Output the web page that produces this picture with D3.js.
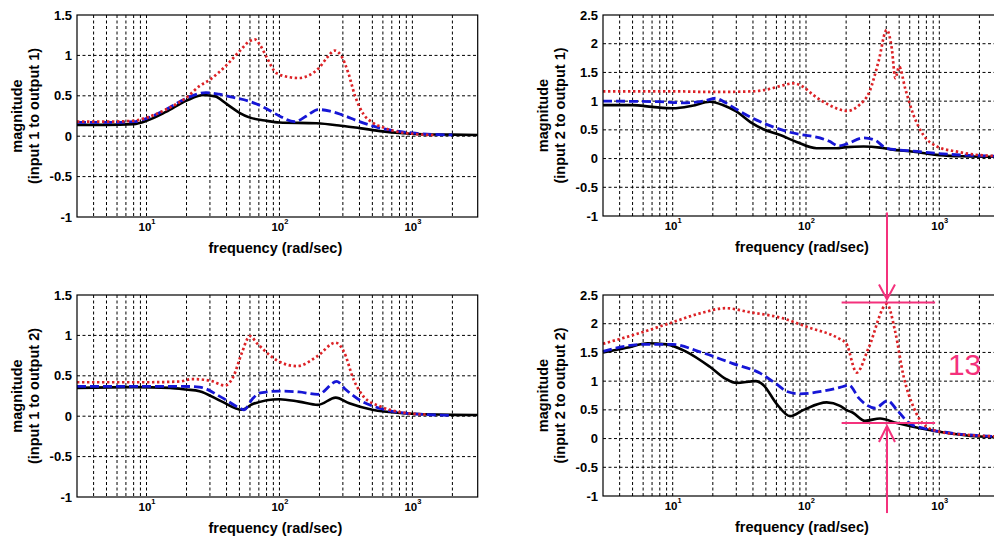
<!DOCTYPE html>
<html>
<head>
<meta charset="utf-8">
<title>Frequency response magnitudes</title>
<style>
  body { margin: 0; background: #fff; }
  svg { display: block; font-family: "Liberation Sans", Arial, sans-serif; }
  .grid line { stroke: #000; stroke-width: 1; stroke-dasharray: 3,2.5; }
  .frame { fill: none; stroke: #000; stroke-width: 1.2; }
  .ytick { font-size: 13px; font-weight: bold; text-anchor: end; dominant-baseline: central; }
  .xtick { font-size: 11.5px; font-weight: bold; }
  .label { font-size: 14.5px; font-weight: bold; text-anchor: middle; }
  .curve { fill: none; stroke-linejoin: round; }
</style>
</head>
<body>
<svg width="994" height="539"></svg>
<script src="https://cdnjs.cloudflare.com/ajax/libs/d3/7.8.5/d3.min.js"></script>
<script>
// axis values
var freqDomain = [3, 3100];
var freqTicks = [10, 100, 1000];
var yTicksA = [-1, -0.5, 0, 0.5, 1, 1.5];
var yTicksB = [-1, -0.5, 0, 0.5, 1, 1.5, 2, 2.5];

// input 1 -> output 1  ([frequency rad/s, magnitude])
var io11Black = [[3,0.14],[5,0.14],[8,0.15],[10,0.19],[14,0.30],[20,0.44],[27,0.51],[33,0.49],[40,0.40],[50,0.29],[60,0.23],[80,0.19],[100,0.17],[190,0.16],[290,0.13],[400,0.10],[600,0.06],[800,0.04],[1200,0.025],[2000,0.02],[3100,0.015]];
var io11Blue = [[3,0.17],[5,0.17],[8,0.18],[10,0.22],[14,0.33],[20,0.47],[28,0.54],[35,0.52],[45,0.48],[60,0.43],[80,0.34],[100,0.25],[130,0.18],[160,0.25],[195,0.33],[240,0.31],[290,0.27],[400,0.18],[575,0.10],[1000,0.04],[2000,0.015]];
var io11Red = [[3,0.18],[5,0.18],[8,0.19],[10,0.23],[14,0.33],[20,0.48],[25,0.62],[30,0.70],[40,0.88],[50,1.05],[60,1.18],[65,1.20],[72,1.12],[80,0.98],[95,0.78],[120,0.73],[140,0.72],[170,0.76],[200,0.85],[230,0.98],[260,1.06],[290,1.0],[330,0.78],[370,0.50],[430,0.27],[500,0.17],[600,0.11],[800,0.05],[1000,0.03],[1500,0.012]];

// input 2 -> output 1
var io21Black = [[3,0.93],[5,0.93],[7,0.90],[10,0.875],[14,0.92],[19,0.99],[24,0.93],[30,0.82],[38,0.64],[48,0.51],[64,0.41],[85,0.29],[120,0.18],[170,0.18],[200,0.20],[270,0.21],[360,0.19],[430,0.16],[640,0.12],[1000,0.06],[1500,0.04],[3100,0.03]];
var io21Blue = [[3,1.0],[8,0.99],[12,0.97],[17,1.0],[21,1.05],[25,0.97],[30,0.86],[40,0.70],[50,0.60],[60,0.53],[75,0.46],[90,0.42],[127,0.36],[150,0.30],[175,0.22],[200,0.25],[270,0.36],[330,0.32],[400,0.18],[500,0.15],[640,0.13],[960,0.09],[1500,0.06],[3100,0.04]];
var io21Red = [[3,1.17],[10,1.17],[20,1.16],[40,1.17],[55,1.22],[68,1.28],[80,1.31],[95,1.25],[113,1.11],[150,0.93],[205,0.83],[250,0.93],[300,1.17],[350,1.69],[403,2.24],[440,1.92],[468,1.40],[500,1.60],[555,1.22],[640,0.76],[760,0.41],[960,0.21],[1360,0.12],[2000,0.06],[3100,0.04]];

// input 1 -> output 2
var io12Black = [[3,0.35],[8,0.36],[15,0.35],[20,0.33],[25,0.31],[37,0.18],[52,0.08],[63,0.15],[100,0.21],[140,0.18],[195,0.14],[265,0.23],[335,0.16],[500,0.08],[810,0.04],[2000,0.017],[3100,0.015]];
var io12Blue = [[3,0.37],[10,0.37],[18,0.37],[25,0.36],[37,0.23],[51,0.095],[54,0.08],[63,0.22],[72,0.29],[100,0.31],[140,0.30],[195,0.27],[270,0.43],[310,0.34],[400,0.20],[575,0.095],[1000,0.03],[2000,0.01]];
var io12Red = [[3,0.42],[10,0.42],[18,0.43],[22,0.46],[30,0.44],[39,0.38],[45,0.49],[52,0.78],[60,0.99],[68,0.90],[96,0.69],[136,0.62],[192,0.74],[264,0.91],[305,0.80],[362,0.45],[431,0.24],[575,0.12],[810,0.05],[1300,0.02]];

// input 2 -> output 2
var io22Black = [[3,1.50],[4.5,1.58],[6.5,1.66],[9,1.64],[12.7,1.51],[19,1.25],[25,1.04],[30,0.97],[42,1.0],[48,0.93],[60,0.61],[76,0.39],[96,0.50],[143,0.63],[180,0.57],[200,0.50],[225,0.45],[277,0.31],[360,0.35],[480,0.27],[716,0.18],[1000,0.12],[2000,0.035],[3100,0.02]];
var io22Blue = [[3,1.52],[6,1.64],[10,1.64],[16,1.51],[28,1.31],[45,1.14],[60,0.95],[72,0.82],[90,0.78],[130,0.82],[180,0.89],[210,0.93],[250,0.70],[330,0.53],[410,0.66],[480,0.50],[600,0.26],[760,0.18],[1100,0.11],[2000,0.05],[3100,0.03]];
var io22Red = [[3,1.65],[5,1.80],[9,1.99],[16,2.18],[25,2.27],[38,2.20],[68,2.09],[100,1.95],[180,1.73],[200,1.66],[240,1.15],[295,1.58],[405,2.34],[465,1.88],[540,1.08],[640,0.55],[760,0.25],[1000,0.12],[1700,0.06],[3100,0.035]];

// annotation on input 2 -> output 2 (frequency, upper and lower magnitude)
var markFreq = 405;
var markLevels = [2.37, 0.27];
var markSpan = [185, 930];
var markText = "13";

var svg = d3.select("svg");

var styles = [
  { color: "#000000", width: 2.6, dash: null },
  { color: "#1616d6", width: 2.8, dash: "9,4" },
  { color: "#dc2226", width: 2.7, dash: "2.4,2.6" }
];

var panels = [
  { left: 77,  top: 15,  width: 400.7, height: 202, ydom: [-1, 1.5], yt: yTicksA, name: "(input 1 to output 1)", data: [io11Black, io11Blue, io11Red], lx: [22, 39] },
  { left: 603, top: 15,  width: 401.8, height: 201, ydom: [-1, 2.5], yt: yTicksB, name: "(input 2 to output 1)", data: [io21Black, io21Blue, io21Red], lx: [548, 565] },
  { left: 77,  top: 295, width: 400.7, height: 202, ydom: [-1, 1.5], yt: yTicksA, name: "(input 1 to output 2)", data: [io12Black, io12Blue, io12Red], lx: [22, 39] },
  { left: 603, top: 295, width: 401.8, height: 201, ydom: [-1, 2.5], yt: yTicksB, name: "(input 2 to output 2)", data: [io22Black, io22Blue, io22Red], lx: [548, 565] }
];

panels.forEach(function (p, pi) {
  var x = d3.scaleLog().domain(freqDomain).range([p.left, p.left + p.width]);
  var y = d3.scaleLinear().domain(p.ydom).range([p.top + p.height, p.top]);
  p.x = x; p.y = y;
  var g = svg.append("g");

  // grid
  var grid = g.append("g").attr("class", "grid");
  var minor = x.ticks().filter(function (t) { return t > freqDomain[0] && t < 3000; });
  grid.selectAll("line.v").data(minor).enter().append("line")
    .attr("x1", x).attr("x2", x)
    .attr("y1", p.top).attr("y2", p.top + p.height);
  grid.selectAll("line.h").data(p.yt.slice(1, -1)).enter().append("line")
    .attr("x1", p.left).attr("x2", p.left + p.width)
    .attr("y1", y).attr("y2", y);

  // curves
  var line = d3.line()
    .x(function (d) { return x(d[0]); })
    .y(function (d) { return y(d[1]); })
    .curve(d3.curveMonotoneX);
  p.data.forEach(function (s, i) {
    var st = styles[i];
    g.append("path").attr("class", "curve")
      .attr("d", line(s))
      .attr("stroke", st.color)
      .attr("stroke-width", st.width)
      .attr("stroke-dasharray", st.dash);
  });

  g.append("rect").attr("class", "frame")
    .attr("x", p.left).attr("y", p.top)
    .attr("width", p.width).attr("height", p.height);

  // y ticks
  g.selectAll("text.ytick").data(p.yt).enter().append("text")
    .attr("class", "ytick")
    .attr("x", p.left - 5)
    .attr("y", y)
    .text(function (d) { return d; });

  // x ticks as 10^n
  var xt = g.selectAll("text.xtick").data(freqTicks).enter().append("text")
    .attr("class", "xtick")
    .attr("x", function (d) { return x(d) - 8; })
    .attr("y", p.top + p.height + 14);
  xt.append("tspan").text("10");
  xt.append("tspan").attr("dy", -7).attr("font-size", "7.5px")
    .text(function (d) { return Math.round(Math.log10(d)); });

  g.append("text").attr("class", "label")
    .attr("x", p.left + p.width / 2 - 2)
    .attr("y", p.top + p.height + 36)
    .text("frequency (rad/sec)");

  var cy = p.top + p.height / 2;
  g.append("text").attr("class", "label")
    .attr("transform", "translate(" + p.lx[0] + "," + cy + ") rotate(-90)")
    .text("magnitude");
  g.append("text").attr("class", "label")
    .attr("transform", "translate(" + p.lx[1] + "," + cy + ") rotate(-90)")
    .text(p.name);
});

// annotation
var pa = panels[3];
var ax = pa.x(markFreq);
var yTop = pa.y(markLevels[0]), yBot = pa.y(markLevels[1]);
var pink = "#f4317c";
var ann = svg.append("g").attr("stroke", pink).attr("stroke-width", 2).attr("fill", "none");
markLevels.forEach(function (v) {
  ann.append("line")
    .attr("x1", pa.x(markSpan[0])).attr("x2", pa.x(markSpan[1]))
    .attr("y1", pa.y(v)).attr("y2", pa.y(v));
});
ann.append("line").attr("x1", ax).attr("x2", ax).attr("y1", yTop - 90).attr("y2", yTop - 3);
ann.append("path").attr("d", "M" + (ax - 8) + "," + (yTop - 18) + "L" + ax + "," + (yTop - 3) + "L" + (ax + 8) + "," + (yTop - 18));
ann.append("line").attr("x1", ax).attr("x2", ax).attr("y1", yBot + 3).attr("y2", yBot + 90);
ann.append("path").attr("d", "M" + (ax - 8) + "," + (yBot + 19) + "L" + ax + "," + (yBot + 3) + "L" + (ax + 8) + "," + (yBot + 19));
svg.append("text")
  .attr("x", pa.x(1160)).attr("y", pa.y(1.11))
  .attr("fill", pink).attr("font-size", "30px")
  .text(markText);
</script>
</body>
</html>
